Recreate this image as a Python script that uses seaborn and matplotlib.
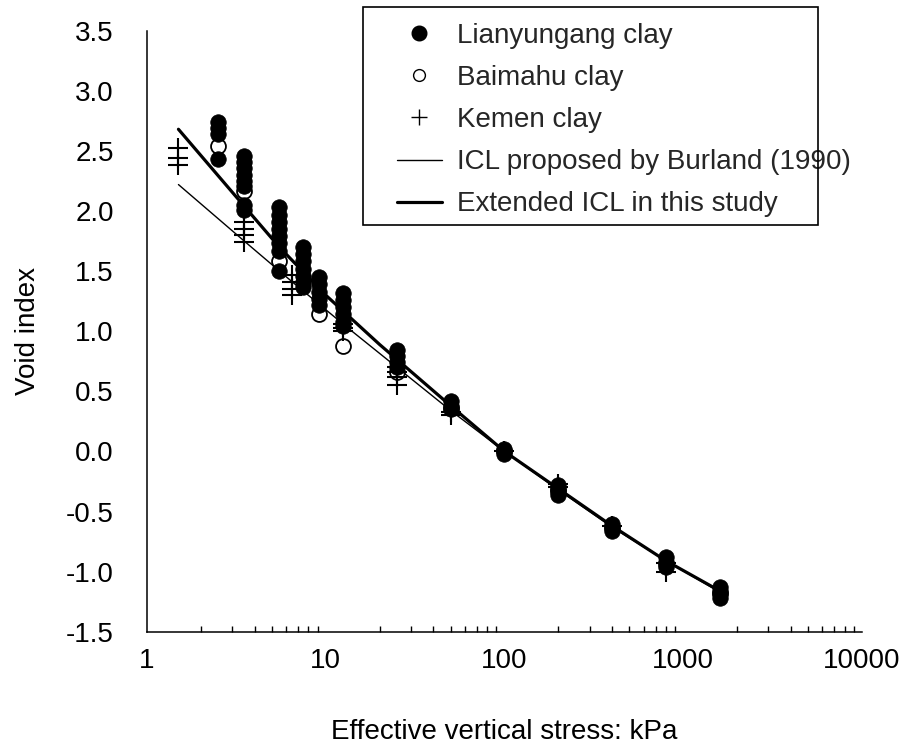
import matplotlib
matplotlib.use("Agg")
import matplotlib.pyplot as plt
from matplotlib.lines import Line2D
from matplotlib.patches import Rectangle
from matplotlib.ticker import FixedLocator, FuncFormatter, LogLocator, NullFormatter
import seaborn as sns
import pandas as pd

# Lianyungang clay (filled circles)
lyg_stress = [2.5, 3.5, 5.5, 7.5, 9.2, 12.5, 25, 50, 100, 200, 400, 800, 1600]
lyg_void = [
    [2.74, 2.69, 2.64, 2.43],
    [2.46, 2.41, 2.36, 2.30, 2.25, 2.21, 2.05, 2.01],
    [2.03, 1.97, 1.91, 1.85, 1.79, 1.73, 1.67, 1.50],
    [1.70, 1.64, 1.58, 1.52, 1.46, 1.41, 1.37],
    [1.45, 1.39, 1.33, 1.27, 1.22],
    [1.32, 1.26, 1.20, 1.14, 1.08, 1.04],
    [0.84, 0.79, 0.74, 0.70],
    [0.42, 0.38, 0.35],
    [0.02, 0.0, -0.02],
    [-0.28, -0.31, -0.34, -0.36],
    [-0.60, -0.63, -0.66],
    [-0.88, -0.92, -0.96],
    [-1.13, -1.16, -1.19, -1.22],
]

# Baimahu clay (open circles)
bmh_stress = [2.5, 3.5, 5.5, 9.2, 12.5, 25, 50, 100, 200, 400, 800, 1600]
bmh_void = [[2.54], [2.17], [1.58], [1.14], [0.88], [0.66], [0.36], [0.0],
            [-0.32], [-0.64], [-0.94], [-1.18]]

# Kemen clay (plus)
km_stress = [1.5, 3.5, 6.5, 12.5, 25, 50, 100, 200, 400, 800]
km_void = [
    [2.52, 2.44, 2.38],
    [1.91, 1.85, 1.80, 1.74],
    [1.47, 1.41, 1.35, 1.30],
    [1.06, 1.03, 1.00],
    [0.70, 0.66, 0.62, 0.55],
    [0.33, 0.30],
    [0.0],
    [-0.27, -0.30],
    [-0.62],
    [-0.93, -1.00],
]

# ICL lines
burland_stress = [1.5, 3.5, 6.5, 12.5, 25, 50, 100, 200, 400, 800, 1600]
burland_void = [2.22, 1.75, 1.41, 1.06, 0.70, 0.34, 0.0, -0.32, -0.63, -0.91, -1.17]
ext_stress = [1.5, 3.5, 5.5, 10, 20, 50, 100, 200, 400, 800, 1600]
ext_void = [2.68, 2.04, 1.70, 1.30, 0.89, 0.38, 0.0, -0.31, -0.62, -0.91, -1.16]

x_ticks = [1, 10, 100, 1000, 10000]
y_ticks = [-1.5, -1.0, -0.5, 0.0, 0.5, 1.0, 1.5, 2.0, 2.5, 3.0, 3.5]

legend_labels = [
    "Lianyungang clay",
    "Baimahu clay",
    "Kemen clay",
    "ICL proposed by Burland (1990)",
    "Extended ICL in this study",
]


def long_frame(levels, voids):
    rows = [(s, v) for s, vs in zip(levels, voids) for v in vs]
    return pd.DataFrame(rows, columns=["stress", "void"])


sns.set_theme(style="white")
plt.rcParams["font.family"] = ["Liberation Sans", "DejaVu Sans"]
plt.rcParams["axes.unicode_minus"] = False

lyg = long_frame(lyg_stress, lyg_void)
bmh = long_frame(bmh_stress, bmh_void)
km = long_frame(km_stress, km_void)

fig = plt.figure(figsize=(9.1, 7.56), dpi=100)
ax = fig.add_axes([0.1615, 0.1644, 0.7857, 0.7950])
ax.set_xscale("log")

sns.scatterplot(data=bmh, x="stress", y="void", marker="o", s=115, color="white",
                edgecolor="black", linewidth=1.3, ax=ax, zorder=2)
sns.scatterplot(data=lyg, x="stress", y="void", marker="o", s=125, color="black",
                edgecolor="black", linewidth=0.5, ax=ax, zorder=3)
sns.scatterplot(data=km, x="stress", y="void", marker="+", s=200, color="black",
                linewidth=1.5, ax=ax, zorder=4)

sns.lineplot(x=burland_stress, y=burland_void, color="black", linewidth=1.0,
             estimator=None, sort=False, ax=ax, zorder=5)
sns.lineplot(x=ext_stress, y=ext_void, color="black", linewidth=2.3,
             estimator=None, sort=False, ax=ax, zorder=6)

ax.set_xlim(1, 10000)
ax.set_ylim(-1.5, 3.5)
ax.xaxis.set_major_locator(FixedLocator(x_ticks))
ax.xaxis.set_major_formatter(FuncFormatter(lambda v, p: f"{v:g}"))
ax.xaxis.set_minor_locator(LogLocator(base=10, subs=range(2, 10), numticks=20))
ax.xaxis.set_minor_formatter(NullFormatter())
ax.yaxis.set_major_locator(FixedLocator(y_ticks))
ax.yaxis.set_major_formatter(FuncFormatter(lambda v, p: f"{v:.1f}"))

ax.tick_params(axis="both", which="major", direction="in", length=7, width=1,
               color="black", labelsize=20, labelcolor="black")
ax.tick_params(axis="x", which="minor", direction="in", length=4.5, width=1,
               color="black", bottom=True)
ax.tick_params(axis="x", which="both", pad=12)
ax.tick_params(axis="y", pad=24)

for side in ["top", "right"]:
    ax.spines[side].set_visible(False)
for side in ["left", "bottom"]:
    ax.spines[side].set_color("black")
    ax.spines[side].set_linewidth(1.1)

ax.set_xlabel("Effective vertical stress: kPa", fontsize=20, labelpad=32, color="black")
ax.set_ylabel("Void index", fontsize=20, labelpad=18, color="black")

# legend with a box drawn to match the original frame
handles = [
    Line2D([], [], marker="o", ls="none", color="black", markersize=10.5),
    Line2D([], [], marker="o", ls="none", mfc="white", mec="black", markersize=8.5, mew=1),
    Line2D([], [], marker="+", ls="none", color="black", markersize=11, mew=1),
    Line2D([], [], color="black", lw=1.0),
    Line2D([], [], color="black", lw=2.3),
]
ax.legend(handles, legend_labels, loc="upper left", bbox_to_anchor=(0.436, 0.9696),
          bbox_transform=fig.transFigure, frameon=False, fontsize=20,
          handlelength=1.62, handletextpad=0.54, labelspacing=0.58,
          borderpad=0, borderaxespad=0)
fig.add_artist(Rectangle((0.399, 0.7024), 0.5, 0.2884, transform=fig.transFigure,
                         facecolor="none", edgecolor="black", linewidth=1.2))

fig.savefig("out.png", dpi=100)
plt.close(fig)
